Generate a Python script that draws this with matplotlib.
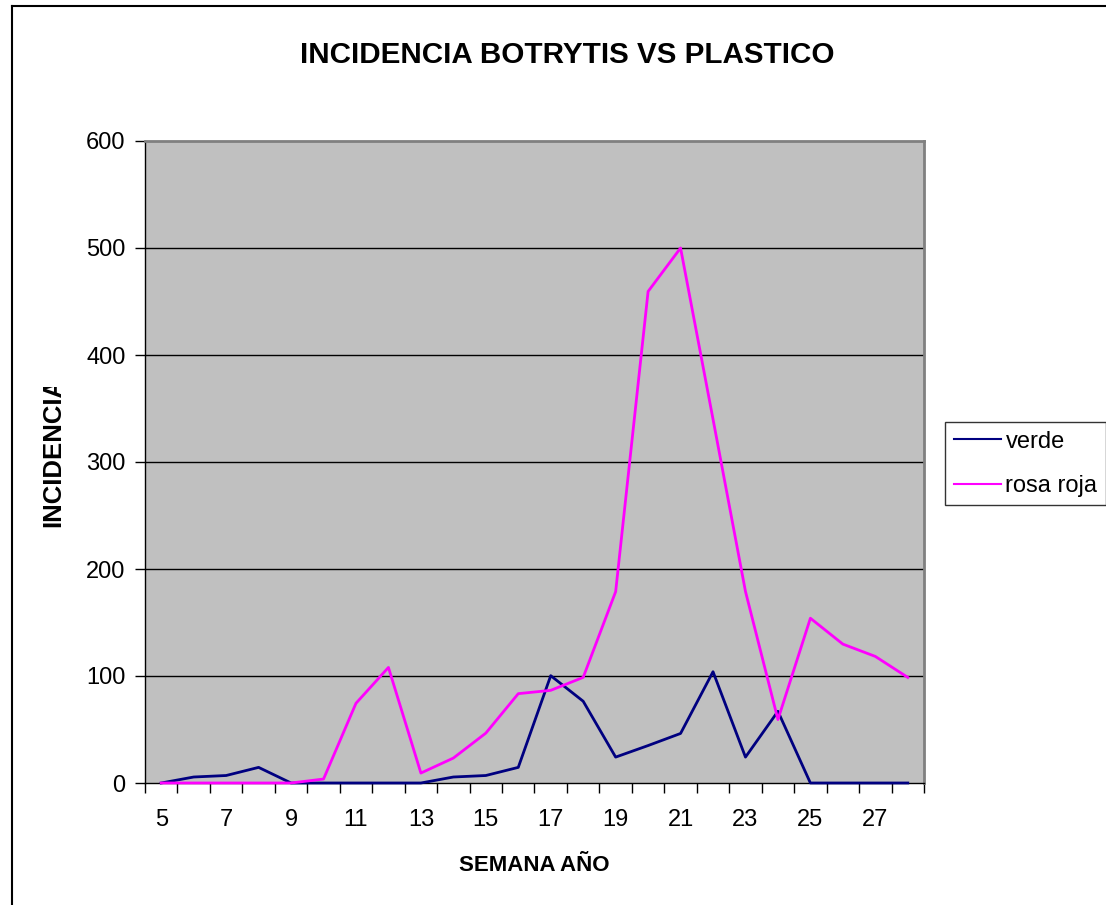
import matplotlib
matplotlib.use("Agg")
import matplotlib.pyplot as plt
from matplotlib.lines import Line2D
from matplotlib.transforms import Bbox

plt.rcParams['font.family'] = ['Liberation Sans', 'DejaVu Sans']

semanas = [5, 6, 7, 8, 9, 10, 11, 12, 13, 14, 15, 16, 17, 18, 19, 20, 21, 22, 23, 24, 25, 26, 27, 28]
verde = [0, 5.6, 7, 14.6, 0, 0, 0, 0, 0, 5.6, 7, 14.6, 100.3, 76.4, 24.2, 35, 46.3, 104, 24.2, 67, 0, 0, 0, 0]
rosa_roja = [0, 0, 0, 0, 0, 3.7, 74.5, 108, 9.3, 23.3, 46.6, 83.5, 86.6, 98.7, 178.8, 459.4, 500, 340, 179, 59.3, 154, 129.8, 118.3, 98.7]
y_ticks = [0, 100, 200, 300, 400, 500, 600]

W, H = 1106, 905
fig = plt.figure(figsize=(W / 100, H / 100), dpi=100)
ax = fig.add_axes([145 / W, 1 - 783 / H, (924 - 145) / W, (783 - 141) / H])
ax.set_facecolor('#C0C0C0')

x = list(range(len(semanas)))
ax.plot(x, verde, color='#000080', lw=2, label='verde', zorder=4, clip_on=False)
ax.plot(x, rosa_roja, color='#FF00FF', lw=2, label='rosa roja', zorder=4, clip_on=False)

ax.set_xlim(-0.5, len(semanas) - 0.5)
ax.set_ylim(0, 600)
ax.set_yticks(y_ticks)
ax.set_yticklabels([str(v) for v in y_ticks], fontsize=17)
for v in y_ticks[1:-1]:
    ax.axhline(v, color='black', lw=1, zorder=1)

ax.set_xticks(x[::2])
ax.set_xticklabels([str(s) for s in semanas[::2]], fontsize=17)
ax.tick_params(axis='x', which='major', length=0, pad=19)
ax.set_xticks([i - 0.5 for i in range(len(semanas) + 1)], minor=True)
ax.tick_params(axis='x', which='minor', length=7, width=1, direction='out', color='black')
ax.tick_params(axis='y', length=7, width=1, direction='out', pad=7)

for s in ['top', 'right']:
    ax.spines[s].set_color('#808080')
    ax.spines[s].set_linewidth(2)
for s in ['left', 'bottom']:
    ax.spines[s].set_color('black')
    ax.spines[s].set_linewidth(1)

fig.text(567 / W, 1 - 55 / H, 'INCIDENCIA BOTRYTIS VS PLASTICO', fontsize=21.3,
         fontweight='bold', ha='center', va='center')
fig.text(534 / W, 1 - 865 / H, 'SEMANA AÑO', fontsize=16, fontweight='bold',
         ha='center', va='center')
yl = fig.text(53 / W, 1 - 527 / H, 'INCIDENCIA', fontsize=18.5, fontweight='bold',
              rotation=90, ha='center', va='bottom')
yl.set_clip_on(True)
yl.set_clip_box(Bbox.from_extents(0, 0, W, H - 387))

leg = ax.legend(loc='upper left', bbox_to_anchor=(945 / W, 1 - 422 / H),
                bbox_transform=fig.transFigure, borderaxespad=0, fontsize=17,
                frameon=True, fancybox=False, shadow=False, handlelength=2.0,
                handletextpad=0.2, labelspacing=0.95, borderpad=0.36)
leg.get_frame().set_edgecolor('black')
leg.get_frame().set_linewidth(1)
for h in leg.get_lines():
    h.set_linewidth(1.5)

fig.add_artist(Line2D([12 / W, 12 / W], [0, 1 - 6 / H], color='black', lw=1.5,
                      transform=fig.transFigure))
fig.add_artist(Line2D([12 / W, 1], [1 - 6 / H, 1 - 6 / H], color='black', lw=1.5,
                      transform=fig.transFigure))

fig.savefig('out.png', dpi=100)
